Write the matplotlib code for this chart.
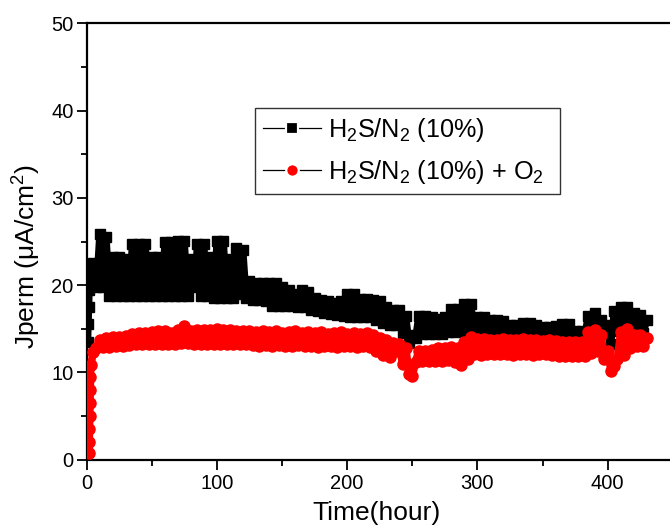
import numpy as np
import matplotlib
matplotlib.use("Agg")
import matplotlib.pyplot as plt
from matplotlib.lines import Line2D

plt.rcParams['font.family'] = ['Liberation Sans', 'DejaVu Sans']
plt.rcParams['mathtext.fontset'] = 'custom'
plt.rcParams['mathtext.rm'] = 'Liberation Sans'
plt.rcParams['mathtext.it'] = 'Liberation Sans:italic'
plt.rcParams['mathtext.bf'] = 'Liberation Sans:bold'

# ---------------- data ----------------
# H2S/N2 (10%)  (black squares)
black_start_t = [0.8, 1.2, 1.6, 2.0, 2.4]
black_start_v = [13.5, 15.5, 17.5, 19.5, 21.0]
black_grid_v = [
    22.5, 19.8, 25.9, 19.8, 25.5, 18.8, 23.2, 18.8, 23.2, 18.8,   # 5 .. 27.5
    23.0, 18.8, 24.7, 18.8, 24.7, 18.8, 24.7, 18.8, 23.2, 18.8,   # 30 .. 52.5
    23.2, 18.8, 24.9, 18.8, 24.9, 18.8, 25.1, 18.8, 25.1, 18.8,   # 55 .. 77.5
    23.0, 19.8, 24.7, 18.8, 24.7, 18.8, 23.2, 18.5, 25.1, 18.5,   # 80 .. 102.5
    25.1, 18.5, 23.0, 18.5, 24.3, 19.0, 24.0, 18.5, 20.5, 18.3,   # 105 .. 127.5
    20.3, 18.3, 20.3, 18.2, 20.2, 17.6, 20.2, 17.6, 19.8, 17.6,   # 130 .. 152.5
    19.5, 17.6, 19.0, 17.5, 19.4, 17.5, 19.2, 17.2, 18.5, 17.0,   # 155 .. 177.5
    18.3, 16.8, 18.2, 16.7, 18.0, 16.6, 18.2, 16.5, 19.0, 16.4,   # 180 .. 202.5
    19.0, 16.3, 18.4, 16.3, 18.4, 16.3, 18.3, 16.0, 18.2, 15.7,   # 205 .. 227.5
    17.5, 15.4, 17.2, 15.4, 17.2, 14.5, 16.5, 13.4, 14.3, 14.0,   # 230 .. 252.5
    16.5, 14.4, 16.5, 14.4, 16.3, 14.4, 16.1, 14.4, 16.4, 14.6,   # 255 .. 277.5
    17.3, 14.6, 17.3, 14.8, 17.8, 14.8, 17.8, 14.8, 16.4, 14.8,   # 280 .. 302.5
    16.3, 14.7, 16.0, 14.7, 16.0, 14.6, 15.9, 14.6, 15.4, 14.5,   # 305 .. 327.5
    15.4, 14.5, 15.7, 14.5, 15.7, 14.5, 15.4, 14.5, 15.2, 14.4,   # 330 .. 352.5
    15.2, 14.4, 15.3, 14.4, 15.6, 14.4, 15.6, 14.3, 14.7, 14.3,   # 355 .. 377.5
    14.7, 14.3, 16.5, 14.6, 16.8, 14.8, 16.0, 14.5, 15.4, 13.3,   # 380 .. 402.5
    17.0, 14.8, 17.5, 15.0, 17.5, 14.8, 16.8, 14.8, 16.6, 14.5,   # 405 .. 427.5
    16.0,                                                         # 430
]

# H2S/N2 (10%) + O2  (red circles)
red_start_t = [1.7, 1.9, 2.1, 2.3, 2.5, 2.7, 2.9, 3.1]
red_start_v = [0.8, 2.0, 3.5, 5.0, 6.5, 8.0, 9.5, 10.8]
red_grid_v = [
    12.3, 12.8, 13.7, 12.9, 13.9, 12.9, 14.1, 13.0, 14.1, 13.0,   # 5 .. 27.5
    14.2, 13.1, 14.4, 13.2, 14.5, 13.2, 14.5, 13.3, 14.6, 13.3,   # 30 .. 52.5
    14.8, 13.2, 14.8, 13.3, 14.5, 13.3, 14.9, 13.4, 15.3, 13.4,   # 55 .. 77.5
    14.8, 13.3, 14.9, 13.3, 14.9, 13.3, 14.9, 13.3, 15.0, 13.3,   # 80 .. 102.5
    14.9, 13.3, 14.9, 13.3, 14.8, 13.2, 14.8, 13.2, 14.7, 13.1,   # 105 .. 127.5
    14.6, 13.0, 14.8, 13.1, 14.6, 13.0, 14.7, 13.1, 14.5, 13.0,   # 130 .. 152.5
    14.6, 13.0, 14.7, 13.1, 14.5, 13.0, 14.6, 13.0, 14.5, 12.9,   # 155 .. 177.5
    14.6, 13.0, 14.4, 13.0, 14.5, 12.9, 14.6, 13.0, 14.4, 13.0,   # 180 .. 202.5
    14.5, 12.9, 14.4, 13.0, 14.5, 12.9, 14.3, 12.5, 14.0, 12.0,   # 205 .. 227.5
    13.7, 11.8, 13.4, 12.5, 13.2, 11.0, 12.8, 9.8, 9.6, 11.2,     # 230 .. 252.5
    12.5, 11.3, 12.5, 11.3, 12.6, 11.3, 12.8, 11.3, 12.8, 11.4,   # 255 .. 277.5
    12.9, 11.2, 12.8, 10.9, 13.5, 11.5, 14.1, 12.1, 13.8, 12.0,   # 280 .. 302.5
    13.8, 12.1, 13.7, 12.1, 13.7, 12.1, 13.8, 12.1, 13.7, 12.0,   # 305 .. 327.5
    13.7, 12.1, 13.8, 12.1, 13.7, 12.0, 13.7, 12.1, 13.6, 12.1,   # 330 .. 352.5
    13.7, 12.0, 13.6, 11.9, 13.5, 11.9, 13.5, 11.9, 13.5, 11.9,   # 355 .. 377.5
    13.5, 11.9, 14.6, 12.2, 14.9, 12.5, 14.3, 11.5, 12.5, 10.2,   # 380 .. 402.5
    10.7, 11.5, 14.6, 12.0, 15.0, 12.8, 14.3, 13.0, 14.3, 13.0,   # 405 .. 427.5
    14.0,                                                         # 430
]
grid_t = np.arange(len(black_grid_v)) * 2.5 + 5.0

black_t = np.concatenate([black_start_t, grid_t])
black_v = np.concatenate([black_start_v, black_grid_v])
red_t = np.concatenate([red_start_t, grid_t])
red_v = np.concatenate([red_start_v, red_grid_v])

label_black = r'H$_2$S/N$_2$ (10%)'
label_red = r'H$_2$S/N$_2$ (10%) + O$_2$'

# ---------------- figure ----------------
fig = plt.figure(figsize=(6.70, 5.26), dpi=100)
W, H = 670, 526
x0, x1 = 86.7, 86.7 + 445 * 1.317
y0, y1 = 459.7, 23.3
ax = fig.add_axes([x0 / W, (H - y0) / H, (x1 - x0) / W, (y0 - y1) / H])

ax.plot(black_t, black_v, color='black', lw=5.0, solid_joinstyle='round',
        solid_capstyle='round', marker='s', ms=7.0,
        mfc='black', mec='black', zorder=2)
ax.plot(red_t, red_v, color='red', lw=5.5, solid_joinstyle='round',
        solid_capstyle='round', marker='o', ms=8.0,
        mfc='red', mec='red', zorder=3)

ax.set_xlim(0, 445)
ax.set_ylim(0, 50)
ax.set_xticks([0, 100, 200, 300, 400])
ax.set_xticks([50, 150, 250, 350, 450], minor=True)
ax.set_yticks([0, 10, 20, 30, 40, 50])
ax.set_yticks([5, 15, 25, 35, 45], minor=True)

for s in ['left', 'bottom', 'top', 'right']:
    ax.spines[s].set_linewidth(1.6)
ax.tick_params(axis='both', which='major', direction='out', length=7, width=1.3,
               labelsize=14.5, pad=2.5)
ax.tick_params(axis='both', which='minor', direction='out', length=4.5, width=1.3)
ax.tick_params(axis='x', which='major', pad=3.5)

ax.set_xlabel('Time(hour)', fontsize=19)
ax.set_ylabel(r'Jperm ($\mathrm{\mu}$A/cm$^2$)', fontsize=19)
ax.xaxis.set_label_coords((376 - x0) / (x1 - x0), -0.094)
ax.yaxis.set_label_coords(-0.075, 0.465)

handles = [
    Line2D([], [], color='black', lw=0.9, marker='s', ms=8.0, mfc='black',
           mec='white', mew=1.6),
    Line2D([], [], color='black', lw=0.9, marker='o', ms=9.0, mfc='red',
           mec='white', mew=1.6),
]
leg = ax.legend(handles, [label_black + '  ', label_red + '  '], loc='upper left',
                bbox_to_anchor=((255 - x0) / (x1 - x0), (y0 - 108) / (y0 - y1)),
                fontsize=18.2, frameon=True, fancybox=False, framealpha=1,
                edgecolor='#333333', handlelength=2.3, handletextpad=0.3,
                borderpad=0.3, labelspacing=0.58, borderaxespad=0)
leg.get_frame().set_linewidth(1.0)

fig.savefig('out.png', dpi=100)
